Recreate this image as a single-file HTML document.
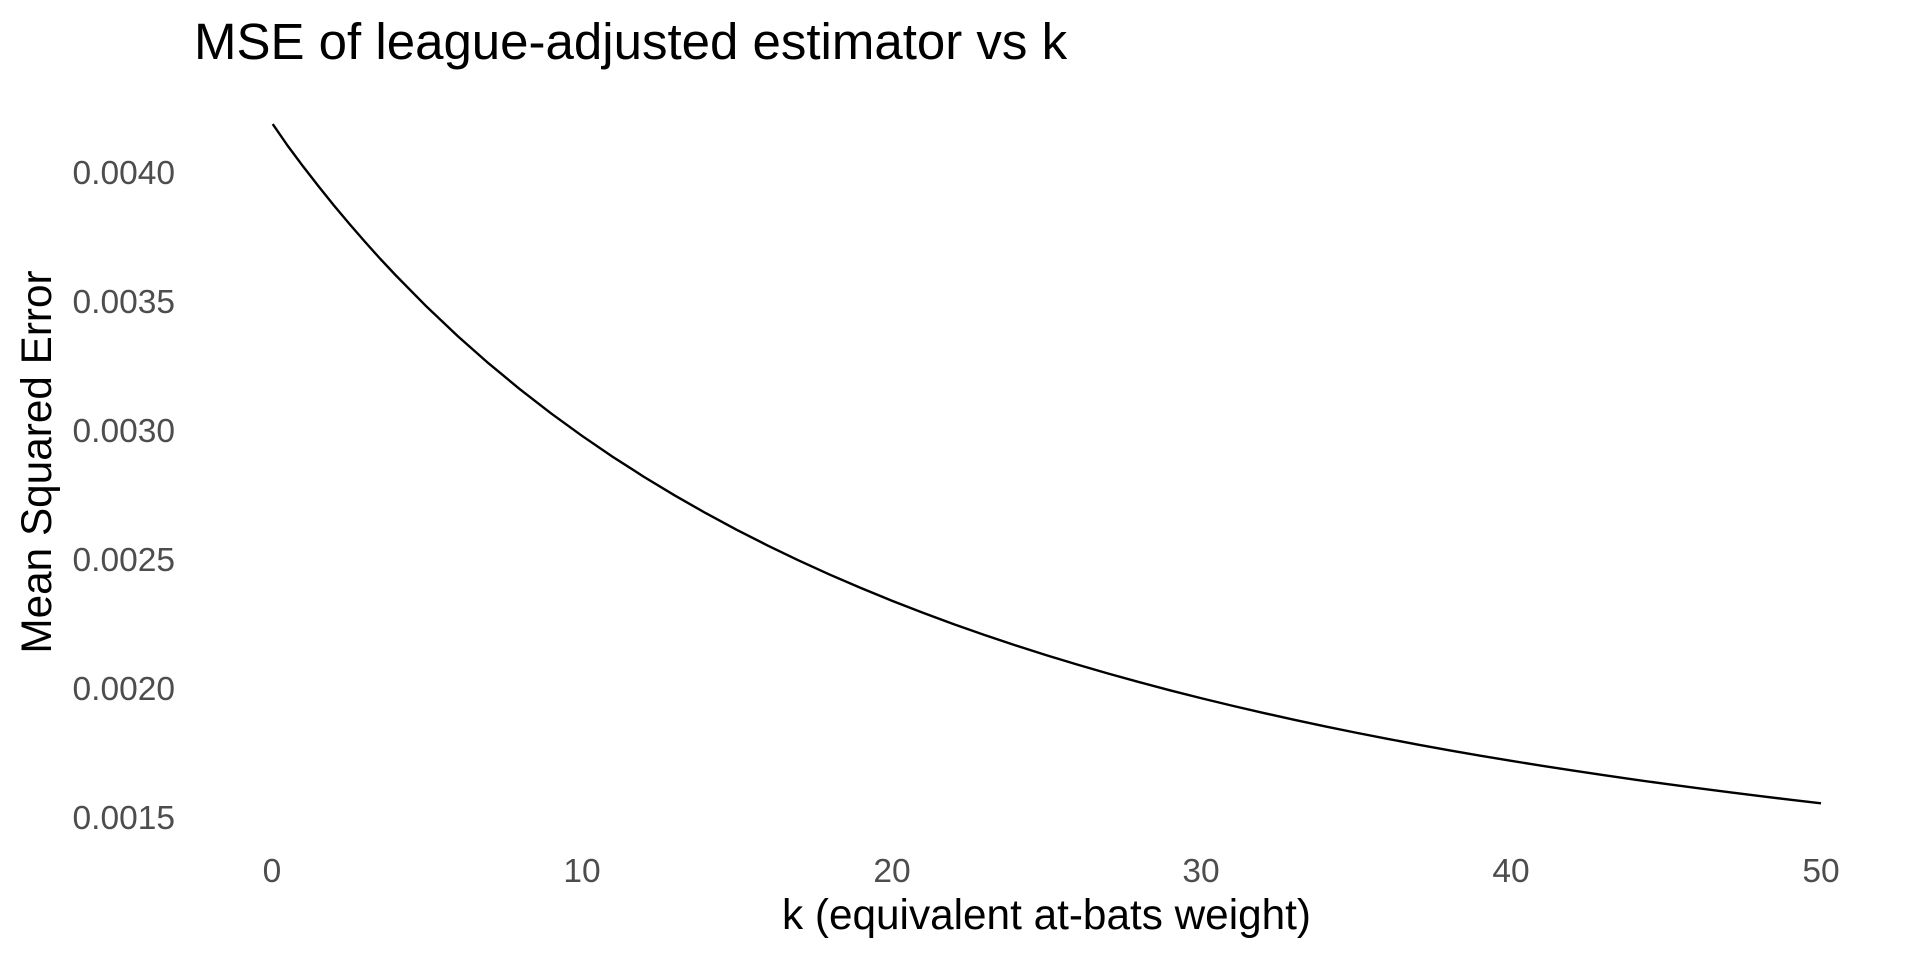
<!DOCTYPE html>
<html>
<head>
<meta charset="utf-8">
<style>
  html, body { margin: 0; padding: 0; background: #ffffff; }
  svg { display: block; }
  text { font-family: "Liberation Sans", Arial, sans-serif; }
</style>
</head>
<body>
<svg width="1920" height="960" viewBox="0 0 1920 960" xmlns="http://www.w3.org/2000/svg">
  <rect x="0" y="0" width="1920" height="960" fill="#ffffff"/>

  <!-- Title -->
  <text x="194" y="59" font-size="51" fill="#000000">MSE of league-adjusted estimator vs k</text>

  <!-- Y tick labels -->
  <g font-size="33.5" fill="#4d4d4d" text-anchor="end">
    <text x="175" y="184">0.0040</text>
    <text x="175" y="313">0.0035</text>
    <text x="175" y="442">0.0030</text>
    <text x="175" y="571">0.0025</text>
    <text x="175" y="700">0.0020</text>
    <text x="175" y="829">0.0015</text>
  </g>

  <!-- X tick labels -->
  <g font-size="33.5" fill="#4d4d4d" text-anchor="middle">
    <text x="272" y="882">0</text>
    <text x="582" y="882">10</text>
    <text x="892" y="882">20</text>
    <text x="1201" y="882">30</text>
    <text x="1511" y="882">40</text>
    <text x="1821" y="882">50</text>
  </g>

  <!-- Axis titles -->
  <text x="1046.5" y="929" font-size="42.3" fill="#000000" text-anchor="middle">k (equivalent at-bats weight)</text>
  <text x="51" y="462" font-size="42.3" fill="#000000" text-anchor="middle" transform="rotate(-90 51 462)">Mean Squared Error</text>

  <!-- Curve -->
  <polyline fill="none" stroke="#000000" stroke-width="2.4" stroke-linejoin="round" stroke-linecap="butt"
    points="272.7,124.03 287.5,145.5 302.98,166.30 318.5,186.2 333.96,205.44 349.5,224.0 364.94,241.75 380.4,259.0 395.92,275.50 426.9,306.92 457.88,336.22 488.86,363.59 519.84,389.20 550.82,413.19 581.8,435.69 612.78,456.83 643.76,476.72 674.74,495.45 705.72,513.11 736.7,529.77 767.68,545.52 798.66,560.42 829.64,574.53 860.62,587.90 891.6,600.59 922.58,612.63 953.56,624.08 984.54,634.97 1015.52,645.34 1046.5,655.22 1077.48,664.64 1108.46,673.63 1139.44,682.21 1170.42,690.41 1201.4,698.25 1232.38,705.76 1263.36,712.94 1294.34,719.82 1325.32,726.42 1356.3,732.75 1387.28,738.82 1418.26,744.65 1449.24,750.26 1480.22,755.64 1511.2,760.83 1542.18,765.81 1573.16,770.61 1604.14,775.23 1635.12,779.69 1666.1,783.98 1697.08,788.12 1728.06,792.12 1759.04,795.98 1790.02,799.71 1821,803.31"/>
</svg>
</body>
</html>
